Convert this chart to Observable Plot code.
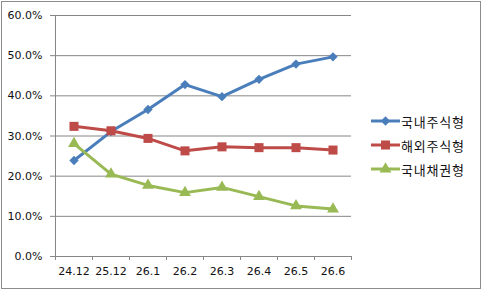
<!DOCTYPE html>
<html>
<head>
<meta charset="utf-8">
<script src="https://cdn.jsdelivr.net/npm/d3@7"></script>
<script src="https://cdn.jsdelivr.net/npm/@observablehq/plot@0.6"></script>
<style>
  html, body { margin: 0; padding: 0; background: #fff; }
  #wrap { position: relative; width: 483px; height: 291px; overflow: hidden; }
  #border { position: absolute; left: 1px; top: 1px; width: 478px; height: 286px; border: 1px solid #8c8c8c; pointer-events: none; }
  #chart { position: absolute; left: 0; top: 0; }
  #legend { position: absolute; left: 0; top: 0; width: 483px; height: 291px; font-family: "Noto Sans CJK KR", sans-serif; font-size: 13px; color: #111; }
  .row { position: absolute; height: 16px; display: flex; align-items: center; white-space: nowrap; }
  .row svg { display: block; flex: none; }
  .row span { white-space: nowrap; letter-spacing: 0.8px; }
</style>
</head>
<body>
<div id="wrap">
  <div id="chart"></div>
  <div id="legend"></div>
  <div id="border"></div>
</div>
<script>
const categories = ["24.12", "25.12", "26.1", "26.2", "26.3", "26.4", "26.5", "26.6"];
const seriesNames = ["국내주식형", "해외주식형", "국내채권형"];
const domesticStock = [0.239, 0.311, 0.366, 0.428, 0.398, 0.441, 0.479, 0.497];
const overseasStock = [0.324, 0.313, 0.294, 0.263, 0.273, 0.271, 0.271, 0.265];
const domesticBond  = [0.281, 0.205, 0.177, 0.159, 0.172, 0.149, 0.126, 0.118];
const yTicks = [0, 0.1, 0.2, 0.3, 0.4, 0.5, 0.6];

const colors = ["#4a7ebb", "#be4b48", "#98b954"];
const symbols = ["diamond2", "square", "triangle"];
const symbolRadius = [4.2, 5.1, 4.4];
const allValues = [domesticStock, overseasStock, domesticBond];

const data = [];
allValues.forEach((vals, s) => {
  vals.forEach((v, i) => data.push({ i, value: v, series: seriesNames[s] }));
});

const idx = d3.range(categories.length);
const boundaries = d3.range(categories.length + 1).map(k => k - 0.5);

const marks = [
  Plot.ruleY(yTicks, { y: d => d, stroke: "#868686", strokeWidth: 1 }),
  Plot.ruleX([boundaries[0]], { x: d => d, stroke: "#868686", strokeWidth: 1 }),
  Plot.axisY({ ticks: yTicks, tickFormat: d3.format(".1%"), tickSize: 5, tickPadding: 8, stroke: "#868686", fill: "#111", label: null, fontSize: 11 }),
  Plot.axisX({ ticks: boundaries, tickFormat: () => "", tickSize: 4, stroke: "#868686", label: null }),
  Plot.axisX({ ticks: idx, tickFormat: i => categories[i], tickSize: 0, tickPadding: 11, fill: "#111", label: null, fontSize: 11, style: { letterSpacing: "0.4px" } })
];

seriesNames.forEach((name, s) => {
  const rows = data.filter(d => d.series === name);
  marks.push(Plot.line(rows, { x: "i", y: "value", stroke: colors[s], strokeWidth: 3 }));
  marks.push(Plot.dot(rows, { x: "i", y: "value", symbol: () => symbols[s], r: symbolRadius[s], fill: colors[s], stroke: "none" }));
});

const chart = Plot.plot({
  width: 483,
  height: 291,
  marginLeft: 55,
  marginRight: 132,
  marginTop: 15,
  marginBottom: 35,
  style: { fontFamily: "DejaVu Sans, sans-serif", fontSize: "11px", background: "transparent", overflow: "visible" },
  x: { type: "linear", domain: [boundaries[0], boundaries[boundaries.length - 1]] },
  y: { domain: [yTicks[0], yTicks[yTicks.length - 1]] },
  symbol: { type: "identity" },
  marks
});
document.getElementById("chart").appendChild(chart);

// Legend (right side)
const legend = d3.select("#legend");
const symMap = { diamond2: d3.symbolDiamond2, square: d3.symbolSquare, triangle: d3.symbolTriangle };
seriesNames.forEach((name, s) => {
  const row = legend.append("div").attr("class", "row")
    .style("left", "371px").style("top", (113 + s * 24) + "px");
  const svg = row.append("svg").attr("width", 30).attr("height", 16);
  svg.append("line").attr("x1", 0).attr("x2", 29).attr("y1", 8).attr("y2", 8)
    .attr("stroke", colors[s]).attr("stroke-width", 3);
  const r = symbolRadius[s];
  svg.append("path")
    .attr("d", d3.symbol(symMap[symbols[s]], Math.PI * r * r)())
    .attr("transform", "translate(14.5,8)")
    .attr("fill", colors[s]);
  row.append("span").text(name);
});
</script>
</body>
</html>
